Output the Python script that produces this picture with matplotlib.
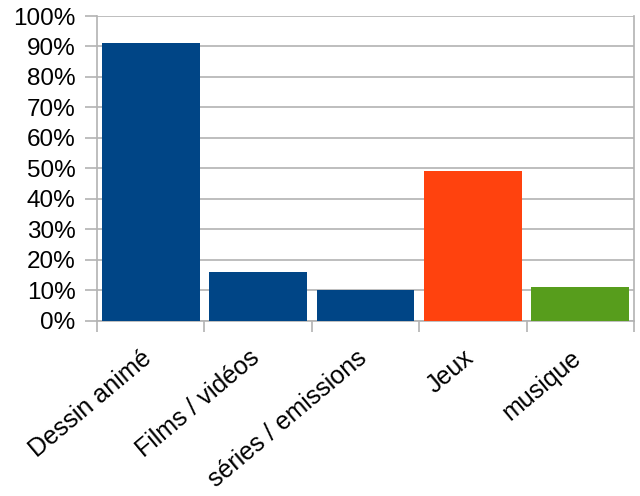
import numpy as np
import matplotlib
matplotlib.use("Agg")
import matplotlib.pyplot as plt
import matplotlib.transforms as mtransforms
from matplotlib.ticker import FuncFormatter, FixedLocator

# donnees
categories = ["Dessin animé", "Films / vidéos", "séries / emissions", "Jeux", "musique"]
valeurs = [91, 16, 10, 49, 11]
couleurs = ["#004586", "#004586", "#004586", "#ff420e", "#579d1c"]

plt.rcParams["font.family"] = ["Liberation Sans", "DejaVu Sans"]

fig = plt.figure(figsize=(6.4, 4.96), dpi=100)
ax = fig.add_axes([0.1516, 0.3534, 0.8390, 0.6143])

x = np.arange(len(categories))
ax.bar(x, valeurs, width=0.91, color=couleurs, zorder=3)

ax.set_xlim(-0.5, len(categories) - 0.5)
ax.set_ylim(0, 100)
ax.set_yticks(np.arange(0, 101, 10))
ax.yaxis.set_major_formatter(FuncFormatter(lambda v, p: "%d%%" % v))
ax.grid(axis="y", color="#b3b3b3", linewidth=1.2, zorder=0)

# etiquettes centrees, graduations entre les categories
ax.set_xticks(x)
ax.set_xticklabels(categories, rotation=40, ha="right", va="top", rotation_mode="anchor")
ax.xaxis.set_minor_locator(FixedLocator(np.arange(-0.5, len(categories), 1)))
ax.tick_params(axis="x", which="major", length=0, pad=18, labelsize=18)
ax.tick_params(axis="x", which="minor", length=8, color="#b3b3b3", width=1.2)
ax.tick_params(axis="y", length=8.5, color="#b3b3b3", width=1.2, pad=7, labelsize=17.5)

decal = mtransforms.ScaledTranslation(-7 / 72, 0, fig.dpi_scale_trans)
for lab in ax.get_xticklabels():
    lab.set_transform(lab.get_transform() + decal)

for s in ["left", "right", "bottom"]:
    ax.spines[s].set_color("#b3b3b3")
    ax.spines[s].set_linewidth(1.2)
ax.spines["top"].set_visible(False)

fig.savefig("out.png", dpi=100)
